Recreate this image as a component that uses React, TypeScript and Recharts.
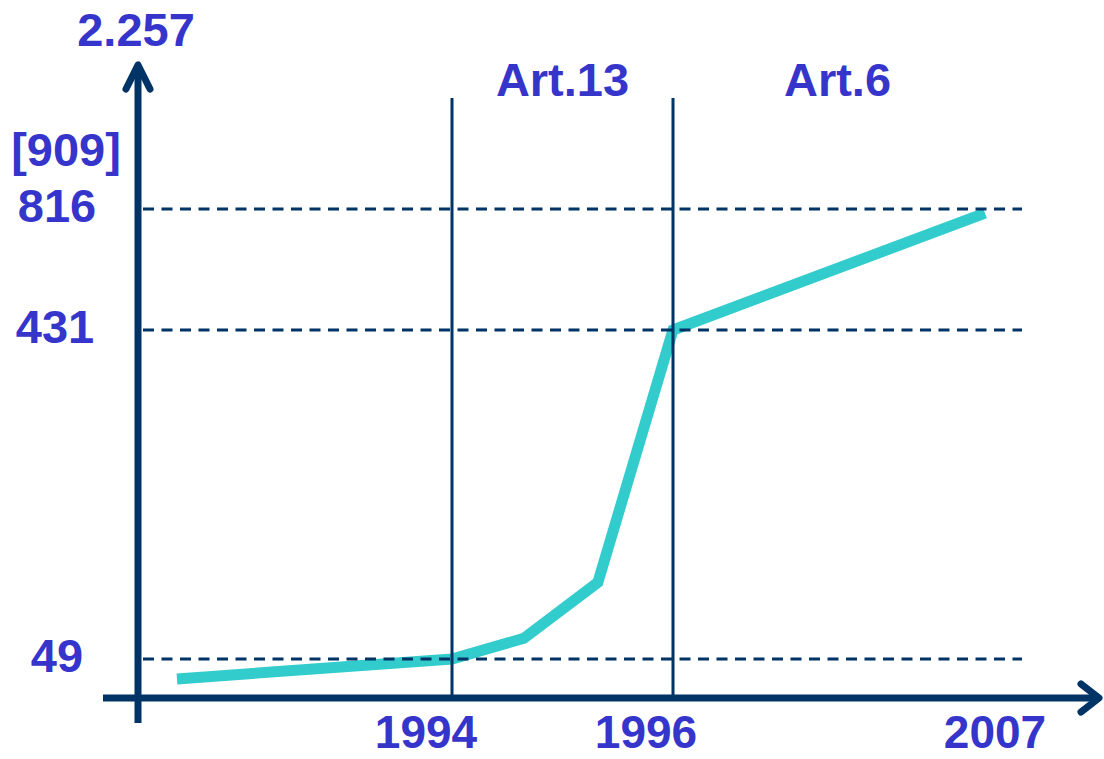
import React from 'react';
import { LineChart, Line, XAxis, YAxis, ReferenceLine, ReferenceArea } from 'recharts';

// --- DATA ---
const YEARS = [1991, 1994, 1994.65, 1995.32, 1996, 2007];
const VALUES = [24, 49, 73, 138, 431, 803];

const X_TICK_YEARS = [1994, 1996, 2007];
const Y_TICK_VALUES = [49, 431, 816, 909, 2257];
const Y_TICK_LABELS = ['49', '431', '816', '[909]', '2.257'];
const GRID_VALUES = [49, 431, 816];
const MARK_YEARS = [1994, 1996];
const PERIODS = [
    { label: 'Art.13', from: 1994, to: 1996 },
    { label: 'Art.6', from: 1996, to: 2007.6 },
];

// --- COLORS ---
const NAVY = '#003366';
const TEAL = '#33CCCC';
const LABEL = '#3535CC';
const FONT = '"Liberation Sans", Arial, Helvetica, sans-serif';

// the original axes are broken: piecewise linear both ways
const X_ANCHORS = [1991, 1994, 1996, 2007];
const X_UNITS = [39, 314, 535, 847];
const Y_ANCHORS = [0, 49, 431, 816, 909, 2257];
const Y_UNITS = [0, 39, 368, 489, 545, 665];

const piecewise = (from: number[], to: number[]) => (v: number) => {
    let i = 0;
    while (i < from.length - 2 && v > from[i + 1]) i++;
    const t = (v - from[i]) / (from[i + 1] - from[i]);
    return to[i] + t * (to[i + 1] - to[i]);
};
const xUnit = piecewise(X_ANCHORS, X_UNITS);
const yUnit = piecewise(Y_ANCHORS, Y_UNITS);

const chartData = YEARS.map((year, i) => ({ x: xUnit(year), y: yUnit(VALUES[i]) }));
const xTicks = X_TICK_YEARS.map(xUnit);
const yTicks = Y_TICK_VALUES.map(yUnit);

const X_LABEL_SHIFT = [-26, -27, 10];
const Y_LABEL_X = [-81, -83, -81, -72, -2];

const labelStyle = { fill: LABEL, fontFamily: FONT, fontWeight: 'bold' as const, fontSize: 47 };

const XTick = (props: any) => {
    const { x, y, index } = props;
    return (
        <text x={x + X_LABEL_SHIFT[index]} y={y + 50} textAnchor="middle" {...labelStyle} fontSize={46}>
            {X_TICK_YEARS[index]}
        </text>
    );
};

const YTick = (props: any) => {
    const { x, y, index } = props;
    return (
        <text x={x + Y_LABEL_X[index]} y={y} dy={13} textAnchor="middle" {...labelStyle}>
            {Y_TICK_LABELS[index]}
        </text>
    );
};

// axis line with an open arrow head at the far end
const arrowShape = (back: number, spread: number) => (p: any) => {
    const { x1, y1, x2, y2 } = p;
    const len = Math.hypot(x2 - x1, y2 - y1) || 1;
    const ux = (x2 - x1) / len;
    const uy = (y2 - y1) / len;
    const bx = x2 - ux * back;
    const by = y2 - uy * back;
    const pts = `${bx - uy * spread},${by + ux * spread} ${x2},${y2} ${bx + uy * spread},${by - ux * spread}`;
    return (
        <g>
            <line x1={x1} y1={y1} x2={x2} y2={y2} stroke={NAVY} strokeWidth={7} />
            <polyline points={pts} fill="none" stroke={NAVY} strokeWidth={7} strokeLinecap="round" strokeLinejoin="round" />
        </g>
    );
};

export default function App() {
    return (
        <div style={{ position: 'absolute', left: 0, top: 0, width: 1104, height: 759, background: '#fff' }}>
            <LineChart width={1104} height={759} data={chartData} margin={{ top: 18, right: 82, left: 0, bottom: 0 }}>
                <XAxis
                    dataKey="x"
                    type="number"
                    domain={[0, 884]}
                    ticks={xTicks}
                    axisLine={false}
                    tickLine={false}
                    tickSize={0}
                    tickMargin={0}
                    height={61}
                    tick={<XTick />}
                    interval={0}
                />
                <YAxis
                    type="number"
                    domain={[0, 680]}
                    ticks={yTicks}
                    axisLine={false}
                    tickLine={false}
                    tickSize={0}
                    tickMargin={0}
                    width={138}
                    tick={<YTick />}
                    interval={0}
                />
                {PERIODS.map(p => (
                    <ReferenceArea
                        key={p.label}
                        x1={xUnit(p.from)}
                        x2={xUnit(p.to)}
                        y1={0}
                        y2={600}
                        fill="none"
                        fillOpacity={0}
                        stroke="none"
                        ifOverflow="visible"
                        label={{ value: p.label, position: 'top', offset: 2, ...labelStyle }}
                    />
                ))}
                <Line
                    type="linear"
                    dataKey="y"
                    stroke={TEAL}
                    strokeWidth={11}
                    dot={false}
                    activeDot={false}
                    isAnimationActive={false}
                />
                {GRID_VALUES.map(v => (
                    <ReferenceLine
                        key={`g-${v}`}
                        segment={[{ x: 5, y: yUnit(v) }, { x: 884, y: yUnit(v) }]}
                        stroke={NAVY}
                        strokeWidth={3}
                        strokeDasharray="11 7.5"
                        ifOverflow="visible"
                    />
                ))}
                {MARK_YEARS.map(yr => (
                    <ReferenceLine
                        key={`m-${yr}`}
                        segment={[{ x: xUnit(yr), y: 0 }, { x: xUnit(yr), y: 600 }]}
                        stroke={NAVY}
                        strokeWidth={3}
                        ifOverflow="visible"
                    />
                ))}
                <ReferenceLine
                    segment={[{ x: 0, y: -25 }, { x: 0, y: 633 }]}
                    ifOverflow="visible"
                    shape={arrowShape(24, 12)}
                />
                <ReferenceLine
                    segment={[{ x: -35, y: 0 }, { x: 961, y: 0 }]}
                    ifOverflow="visible"
                    shape={arrowShape(18, 14)}
                />
            </LineChart>
        </div>
    );
}
